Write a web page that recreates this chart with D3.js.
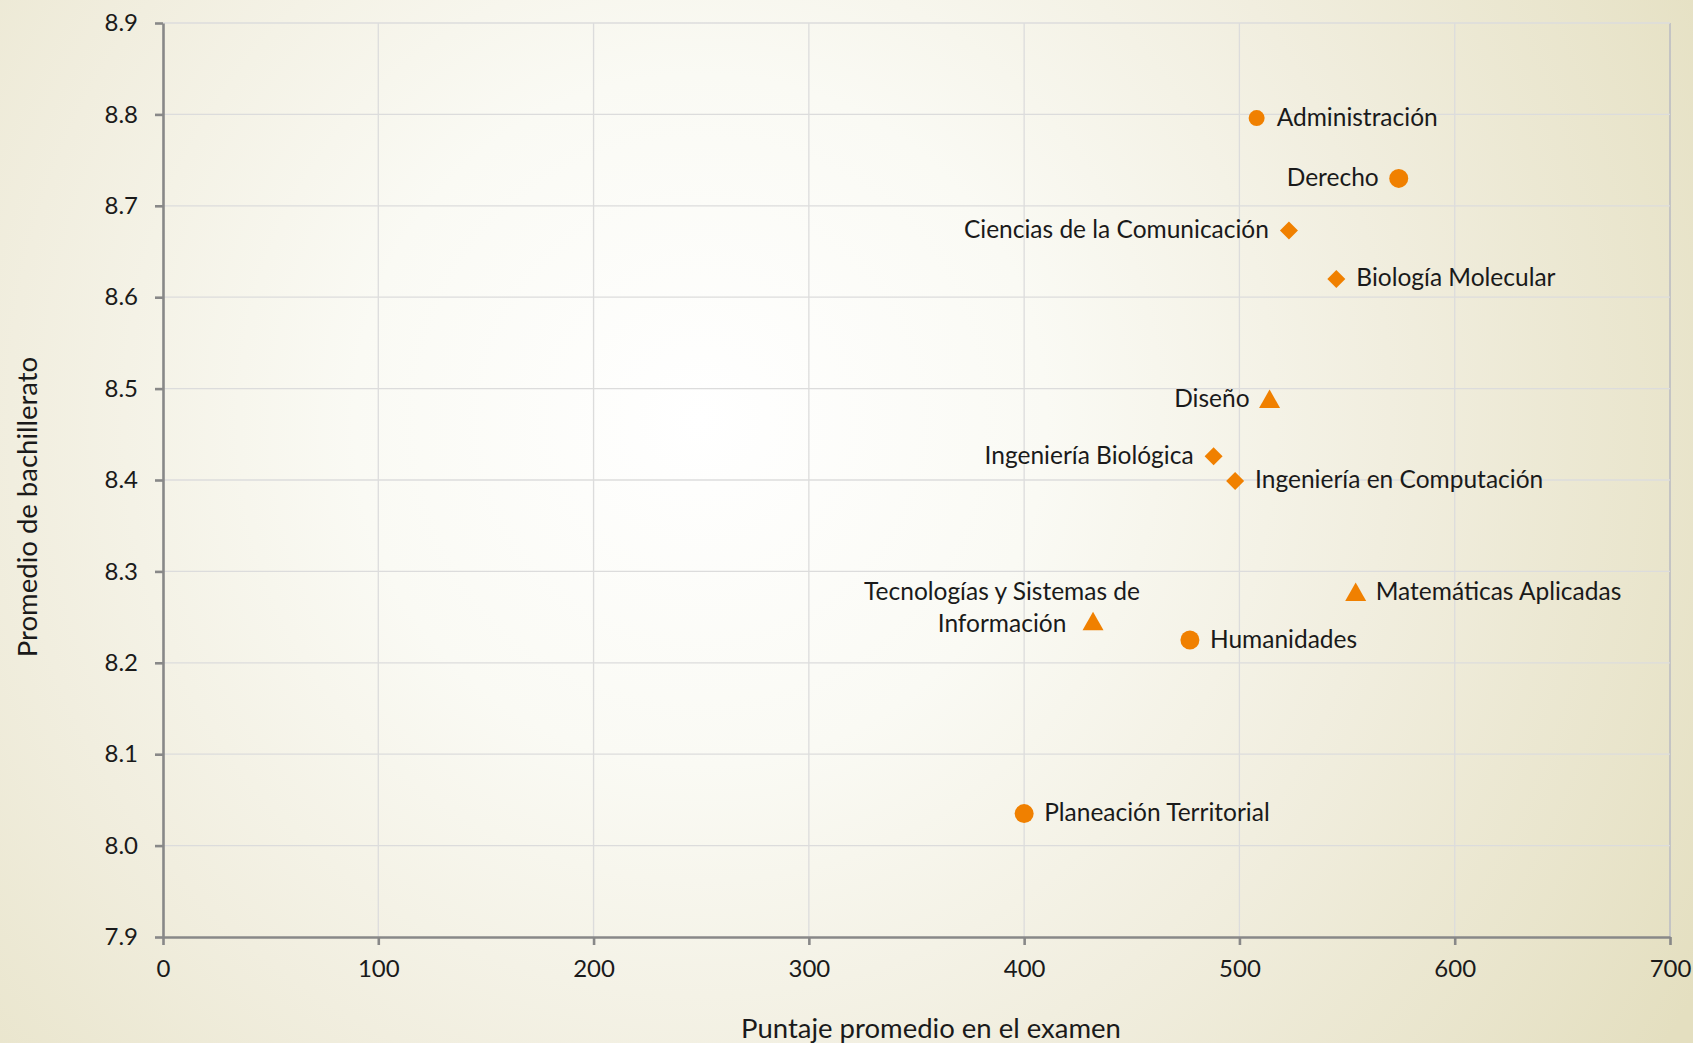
<!DOCTYPE html>
<html>
<head>
<meta charset="utf-8">
<script src="https://cdn.jsdelivr.net/npm/d3@7"></script>
<style>
  html, body { margin: 0; padding: 0; }
  svg { display: block; font-family: Lato, "Open Sans", sans-serif; }
</style>
</head>
<body>
<svg id="chart" width="1693" height="1043"></svg>
<script>
// carreras: puntaje promedio en el examen vs promedio de bachillerato
var carreras = ["Administración", "Derecho", "Ciencias de la Comunicación", "Biología Molecular",
    "Diseño", "Ingeniería Biológica", "Ingeniería en Computación", "Matemáticas Aplicadas",
    "Tecnologías y Sistemas de\nInformación", "Humanidades", "Planeación Territorial"]
var puntaje = [508, 574, 523, 545, 514, 488, 498, 554, 432, 477, 400]
var promedio = [8.796, 8.730, 8.673, 8.620, 8.488, 8.426, 8.399, 8.277, 8.245, 8.225, 8.035]
var marcador = ["circle", "circle", "diamond", "diamond", "triangle", "diamond", "diamond",
    "triangle", "triangle", "circle", "circle"]

var xTicks = [0, 100, 200, 300, 400, 500, 600, 700]
var yTicks = [7.9, 8.0, 8.1, 8.2, 8.3, 8.4, 8.5, 8.6, 8.7, 8.8, 8.9]

// which side the label sits on (layout, not data)
var labelSide = {
    "Administración": "right", "Derecho": "left", "Ciencias de la Comunicación": "left",
    "Biología Molecular": "right", "Diseño": "left", "Ingeniería Biológica": "left",
    "Ingeniería en Computación": "right", "Matemáticas Aplicadas": "right",
    "Tecnologías y Sistemas de\nInformación": "wrap", "Humanidades": "right",
    "Planeación Territorial": "right"
}

var W = 1693, H = 1043
var margin = {left: 163, right: W - 1670, top: 23, bottom: H - 937}
var orange = "#f08000"

var svg = d3.select("#chart")

var defs = svg.append("defs")
var grad = defs.append("radialGradient")
    .attr("id", "bg")
    .attr("gradientUnits", "userSpaceOnUse")
    .attr("cx", 700).attr("cy", 420).attr("r", 1150)
grad.append("stop").attr("offset", 0).attr("stop-color", "#ffffff")
grad.append("stop").attr("offset", 0.3).attr("stop-color", "#fafaf4")
grad.append("stop").attr("offset", 0.6).attr("stop-color", "#f1eedf")
grad.append("stop").attr("offset", 1).attr("stop-color", "#e4dfc0")

svg.append("rect").attr("width", W).attr("height", H).attr("fill", "url(#bg)")

var x = d3.scaleLinear().domain([0, 700]).range([margin.left, W - margin.right])
var y = d3.scaleLinear().domain([7.9, 8.9]).range([H - margin.bottom, margin.top])

// grid
var grid = svg.append("g").attr("class", "grid")
grid.selectAll("line.gx")
    .data(xTicks.slice(1))
    .enter().append("line")
    .attr("class", "gx")
    .attr("x1", d => x(d)).attr("x2", d => x(d))
    .attr("y1", y(8.9)).attr("y2", y(7.9))
    .attr("stroke", d => d === 700 ? "#c4c4c4" : "#dcdcdc")
    .attr("stroke-width", d => d === 700 ? 2 : 1.3)
grid.selectAll("line.gy")
    .data(yTicks.slice(1))
    .enter().append("line")
    .attr("class", "gy")
    .attr("x1", x(0)).attr("x2", x(700))
    .attr("y1", d => y(d)).attr("y2", d => y(d))
    .attr("stroke", "#dcdcdc")
    .attr("stroke-width", 1.3)

// axes
var xAxis = svg.append("g")
    .attr("transform", "translate(0," + y(7.9) + ")")
    .call(d3.axisBottom(x).tickValues(xTicks).tickFormat(d3.format("d")).tickSize(8).tickPadding(15).tickSizeOuter(0))
var yAxis = svg.append("g")
    .attr("transform", "translate(" + x(0) + ",0)")
    .call(d3.axisLeft(y).tickValues(yTicks).tickFormat(d3.format(".1f")).tickSize(8).tickPadding(17).tickSizeOuter(0))

;[xAxis, yAxis].forEach(function(a) {
    a.select(".domain").attr("stroke", "#888").attr("stroke-width", 2.6)
    a.selectAll(".tick line").attr("stroke", "#888").attr("stroke-width", 2.6)
    a.selectAll(".tick text")
        .attr("fill", "#1a1a1a")
        .style("font-size", "24px")
        .style("font-family", "Lato, sans-serif")
})

// markers
var shapes = {
    circle: function(r) { return d3.symbol().type(d3.symbolCircle).size(Math.PI * r * r)() },
    diamond: function(r) { return "M0," + (-r) + "L" + r + ",0L0," + r + "L" + (-r) + ",0Z" },
    triangle: function(r) { return "M0," + (-r) + "L" + (r * 1.05) + "," + (r * 0.85) + "L" + (-r * 1.05) + "," + (r * 0.85) + "Z" }
}
var markerR = {circle: 9.5, diamond: 9, triangle: 10}

var pts = carreras.map(function(c, i) {
    return {name: c, x: puntaje[i], y: promedio[i], shape: marcador[i]}
})

var points = svg.append("g").attr("class", "points")
points.selectAll("path")
    .data(pts)
    .enter().append("path")
    .attr("transform", d => "translate(" + x(d.x) + "," + y(d.y) + ")")
    .attr("d", function(d) {
        var r = markerR[d.shape]
        if (d.name === "Administración") r = 8
        return shapes[d.shape](r)
    })
    .attr("fill", orange)

// labels
var labels = svg.append("g").attr("class", "labels")
    .style("font-size", "24.5px")
    .attr("fill", "#1a1a1a")
var gap = 20
pts.forEach(function(d) {
    var side = labelSide[d.name]
    var px = x(d.x), py = y(d.y)
    var t = labels.append("text")
    if (side === "right") {
        t.attr("x", px + gap).attr("y", py - 1).attr("dy", "0.35em").attr("text-anchor", "start").text(d.name)
    } else if (side === "left") {
        t.attr("x", px - gap).attr("y", py - 1).attr("dy", "0.35em").attr("text-anchor", "end").text(d.name)
    } else {
        var lines = d.name.split("\n")
        t.attr("text-anchor", "middle")
        lines.forEach(function(l, k) {
            t.append("tspan")
                .attr("x", px - 91)
                .attr("y", py - 30 + k * 32)
                .attr("dy", "0.35em")
                .text(l)
        })
    }
})

// axis titles
svg.append("text")
    .attr("x", 931)
    .attr("y", 1028)
    .attr("dy", "0.35em")
    .attr("text-anchor", "middle")
    .style("font-size", "27.5px")
    .attr("fill", "#1a1a1a")
    .text("Puntaje promedio en el examen")

svg.append("text")
    .attr("transform", "translate(27,507) rotate(-90)")
    .attr("dy", "0.35em")
    .attr("text-anchor", "middle")
    .style("font-size", "27.5px")
    .attr("fill", "#1a1a1a")
    .text("Promedio de bachillerato")
</script>
</body>
</html>
